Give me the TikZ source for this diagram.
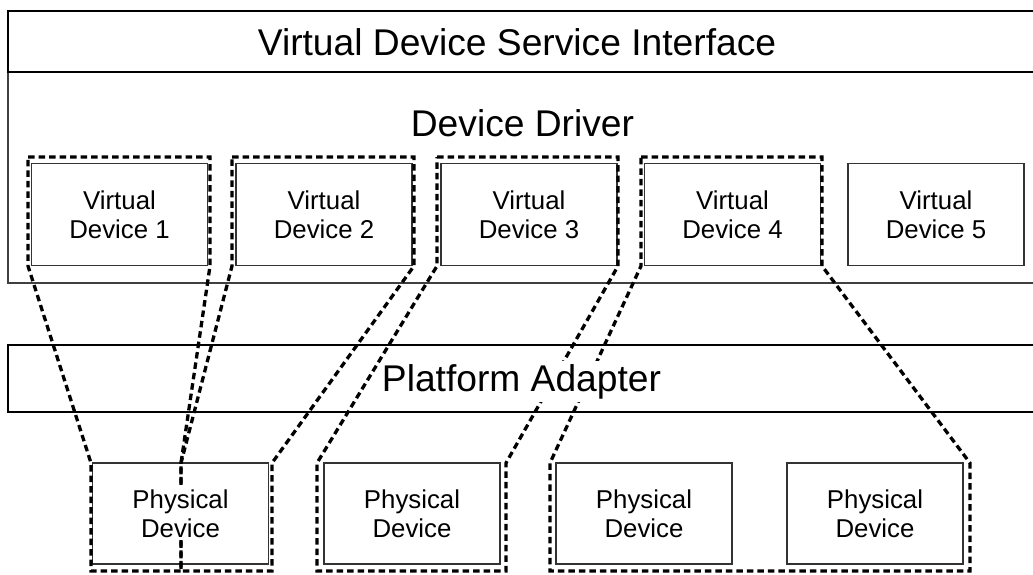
\documentclass[tikz,border=0pt]{standalone}
\usepackage{fontspec}
\setmainfont{Liberation Sans}
\begin{document}
\begin{tikzpicture}[x=1pt,y=-1pt,
  layertext/.style={font=\fontsize{37.2}{42}\selectfont, inner sep=0pt, anchor=base},
  devbox/.style={draw=black!80, line width=1.2pt, minimum width=176pt, minimum height=102pt,
    inner sep=0pt, align=center, font=\fontsize{25.8}{29}\selectfont},
  devlabel/.style={fill=white, inner xsep=1pt, inner ysep=3pt, align=center,
    font=\fontsize{25.8}{29}\selectfont},
  mapping/.style={line width=3.3pt, dash pattern=on 6.5pt off 4pt, line join=miter},
]
\useasboundingbox (0,0) rectangle (1033,574);
\clip (0,0) rectangle (1033,574);

% layer bars (they run past the right edge)
\draw[line width=1.6pt, draw=black!75] (8,72) rectangle (1045,283);
\draw[line width=2.4pt] (8,11) rectangle (1045,72);
\draw[line width=1.8pt] (8,345) rectangle (1045,412);

\node[layertext] (vdsi) at (517,55) {Virtual Device Service Interface};
\node[layertext] (driver) at (522.5,136.7) {Device Driver};

% virtual devices
\node[devbox] (vd1) at (119.5,214.5) {Virtual\\Device 1};
\node[devbox] (vd2) at (324,214.5) {Virtual\\Device 2};
\node[devbox] (vd3) at (529,214.5) {Virtual\\Device 3};
\node[devbox] (vd4) at (732.5,214.5) {Virtual\\Device 4};
\node[devbox] (vd5) at (936,214.5) {Virtual\\Device 5};

% physical devices
\node[devbox, minimum height=101pt] (pd1) at (180.5,513.5) {};
\node[devbox, minimum height=101pt] (pd2) at (412,513.5) {};
\node[devbox, minimum height=101pt] (pd3) at (644,513.5) {};
\node[devbox, minimum height=101pt] (pd4) at (875,513.5) {};

% mappings from virtual to physical devices
\draw[mapping] (28,157) -- (210,157) -- (210,266) -- (181,463) -- (181,571)
  -- (91,571) -- (91,463) -- (28,266) -- cycle;
\draw[mapping] (232,157) -- (414,157) -- (414,266) -- (272,463) -- (272,571)
  -- (181,571) -- (181,463) -- (232,266) -- cycle;
\draw[mapping] (437,157) -- (618,157) -- (618,266) -- (506,463) -- (506,571)
  -- (317,571) -- (317,463) -- (437,266) -- cycle;
\draw[mapping] (641,157) -- (822,157) -- (822,266) -- (970,463) -- (970,571)
  -- (550,571) -- (550,463) -- (641,266) -- cycle;

% labels drawn over the mapping lines
\node[layertext, fill=white, inner xsep=1pt, inner ysep=3pt] (adapter) at (521.5,391) {Platform Adapter};
\node[devlabel] (pd1-label) at (pd1) {Physical\\Device};
\node[devlabel] (pd2-label) at (pd2) {Physical\\Device};
\node[devlabel] (pd3-label) at (pd3) {Physical\\Device};
\node[devlabel] (pd4-label) at (pd4) {Physical\\Device};
\end{tikzpicture}
\end{document}
